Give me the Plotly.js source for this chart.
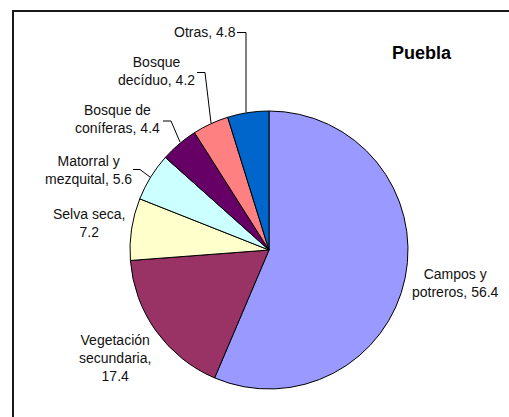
<!DOCTYPE html>
<html>
<head>
<meta charset="utf-8">
<script src="https://cdn.plot.ly/plotly-3.0.1.min.js"></script>
<style>html,body{margin:0;padding:0;background:#fff;}#chart{width:509px;height:417px;}</style>
</head>
<body>
<div id="chart"></div>
<script>
const categories = ["Campos y potreros", "Vegetación secundaria", "Selva seca", "Matorral y mezquital", "Bosque de coníferas", "Bosque decíduo", "Otras"];
const values = [56.4, 17.4, 7.2, 5.6, 4.4, 4.2, 4.8];
const labelTexts = ["Campos y<br>potreros, 56.4", "Vegetación<br>secundaria,<br>17.4", "Selva seca,<br>7.2", "Matorral y<br>mezquital, 5.6", "Bosque de<br>coníferas, 4.4", "Bosque<br>decíduo, 4.2", "Otras, 4.8"];
const colors = ["#9999FF", "#993366", "#FFFFCC", "#CCFFFF", "#660066", "#FF8080", "#0066CC"];

const W = 509, H = 417;
const px = x => x / W;
const py = y => 1 - y / H;

// label centre positions (pixels)
const labelPos = [[455, 283], [115, 358], [89, 223], [88, 170], [117, 119], [156, 71], [205, 32]];
// leader lines (pixels)
const leaders = [
  null, null, null,
  [[133, 169.5], [140, 169.5], [150, 177]],
  [[163, 121], [171, 121], [180, 142]],
  [[197, 72.5], [205, 72.5], [211, 123]],
  [[237, 32.5], [246, 32.5], [246, 112]]
];

const shapes = [{
  type: "rect", xref: "paper", yref: "paper",
  x0: px(13), x1: px(530), y0: py(440), y1: py(11),
  line: {color: "#1a1a1a", width: 2}
}];
leaders.forEach(l => {
  if (!l) return;
  let path = "M" + l.map(p => px(p[0]) + "," + py(p[1])).join(" L");
  shapes.push({type: "path", xref: "paper", yref: "paper", path: path, line: {color: "#000", width: 1}});
});

const annotations = labelTexts.map((t, i) => ({
  text: t, xref: "paper", yref: "paper",
  x: px(labelPos[i][0]), y: py(labelPos[i][1]),
  xanchor: "center", yanchor: "middle", showarrow: false, align: "center",
  font: {family: "Liberation Sans, Arial, sans-serif", size: 14, color: "#111"}
}));
annotations.push({
  text: "<b>Puebla</b>", xref: "paper", yref: "paper",
  x: px(421.5), y: py(52.5), xanchor: "center", yanchor: "middle", showarrow: false,
  font: {family: "Liberation Sans, Arial, sans-serif", size: 18, color: "#000"}
});

const trace = {
  type: "pie",
  labels: categories,
  values: values,
  sort: false,
  direction: "clockwise",
  rotation: 0,
  textinfo: "none",
  hoverinfo: "label+value",
  marker: {colors: colors, line: {color: "#000", width: 1}},
  domain: {x: [px(130), px(408)], y: [py(389), py(111)]},
  showlegend: false
};

const layout = {
  width: W, height: H,
  margin: {l: 0, r: 0, t: 0, b: 0},
  paper_bgcolor: "#fff", plot_bgcolor: "#fff",
  showlegend: false,
  shapes: shapes,
  annotations: annotations
};

Plotly.newPlot("chart", [trace], layout, {staticPlot: true, displayModeBar: false});
</script>
</body>
</html>
